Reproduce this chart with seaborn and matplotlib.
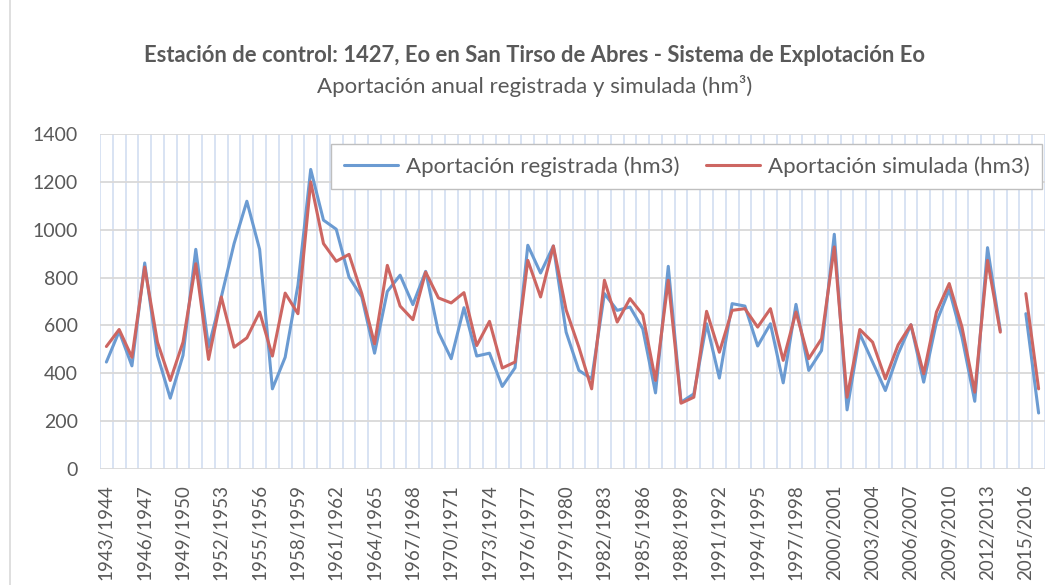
import numpy as np
import pandas as pd
import matplotlib
matplotlib.use("Agg")
import matplotlib.pyplot as plt
from matplotlib.patches import Rectangle
import seaborn as sns

# Hydrological years 1943/1944 ... 2016/2017
years = [f"{y}/{y + 1}" for y in range(1943, 2017)]

# Annual inflow, hm3 (2014/2015 missing)
registrada = [447, 575, 431, 861, 475, 296, 475, 918, 509, 719,
              942, 1119, 918, 335, 467, 768, 1252, 1040, 1002, 802,
              719, 484, 742, 810, 687, 826, 572, 461, 674, 472,
              484, 345, 423, 935, 819, 932, 572, 412, 377, 733,
              663, 677, 586, 318, 847, 279, 314, 607, 380, 691,
              681, 514, 607, 360, 688, 412, 495, 981, 247, 565,
              447, 328, 481, 603, 363, 614, 749, 551, 283, 925,
              579, np.nan, 649, 234]
simulada = [512, 583, 467, 844, 530, 370, 530, 858, 458, 719,
            509, 548, 656, 472, 735, 649, 1200, 942, 868, 897,
            733, 523, 851, 681, 624, 823, 715, 694, 737, 516,
            617, 422, 447, 872, 719, 932, 665, 509, 335, 789,
            614, 712, 645, 370, 789, 275, 300, 659, 488, 663,
            670, 593, 670, 454, 656, 461, 544, 928, 300, 583,
            530, 377, 519, 603, 398, 656, 775, 593, 321, 872,
            572, np.nan, 733, 335]

serie_reg = "Aportación registrada (hm3)"
serie_sim = "Aportación simulada (hm3)"

# long format; a new "tramo" after each gap so the line breaks there
rows = []
for name, vals in [(serie_reg, registrada), (serie_sim, simulada)]:
    seg = 0
    for i, v in enumerate(vals):
        if np.isnan(v):
            seg += 1
            continue
        rows.append({"x": i, "valor": v, "serie": name, "tramo": seg})
df = pd.DataFrame(rows)

sns.set_style("white")
plt.rcParams['font.family'] = ['Lato', 'DejaVu Sans']
text_color = '#595959'

fig = plt.figure(figsize=(10.61, 5.85), dpi=100, facecolor='white')
ax = fig.add_axes([100 / 1061, 1 - 469 / 585, 945 / 1061, 335 / 585])

sns.lineplot(data=df, x="x", y="valor", hue="serie", units="tramo",
             estimator=None, palette={serie_reg: '#6b9bd2', serie_sim: '#cd6662'},
             linewidth=2.2, ax=ax)

ax.set_xlim(-0.5, len(years) - 0.5)
ax.set_ylim(0, 1400)
ax.set_yticks(range(0, 1401, 200))
ax.set_xticks(range(0, len(years), 3))
ax.set_xticklabels(years[::3], rotation=90)
ax.set_xticks(np.arange(-0.5, len(years), 1), minor=True)
ax.set_xlabel("")
ax.set_ylabel("")

ax.set_axisbelow(True)
ax.grid(axis='y', which='major', color='#d9d9d9', linewidth=1.3)
ax.grid(axis='x', which='minor', color='#d6e1f2', linewidth=1.3)
ax.grid(axis='x', which='major', visible=False)
for s in ax.spines.values():
    s.set_visible(False)
ax.tick_params(axis='both', which='both', length=0, labelsize=13.5, labelcolor=text_color)
ax.tick_params(axis='y', labelsize=14, pad=16)
ax.tick_params(axis='x', pad=11)

leg = ax.legend(loc='upper right', bbox_to_anchor=(0.997, 0.97), ncol=2,
                frameon=True, fancybox=False, framealpha=1, edgecolor='#bfbfbf',
                fontsize=16, handlelength=2.45, handletextpad=0.35,
                columnspacing=1.2, borderpad=0.55, borderaxespad=0)
leg.get_frame().set_linewidth(1.0)
for t in leg.get_texts():
    t.set_color(text_color)

fig.text(535 / 1061, 1 - 55 / 585, "Estación de control: 1427, Eo en San Tirso de Abres - Sistema de Explotación Eo",
         ha='center', va='center', fontsize=15.8, fontweight='bold', color=text_color)
fig.text(535 / 1061, 1 - 86 / 585, "Aportación anual registrada y simulada (hm³)",
         ha='center', va='center', fontsize=16, color=text_color)

fig.add_artist(Rectangle((10 / 1061, -0.2), 1.2, 1.2 + (1 - 14 / 585),
                         transform=fig.transFigure, fill=False,
                         edgecolor='#d9d9d9', linewidth=1.2))

plt.savefig("out.png", dpi=100, facecolor='white')
plt.close()
